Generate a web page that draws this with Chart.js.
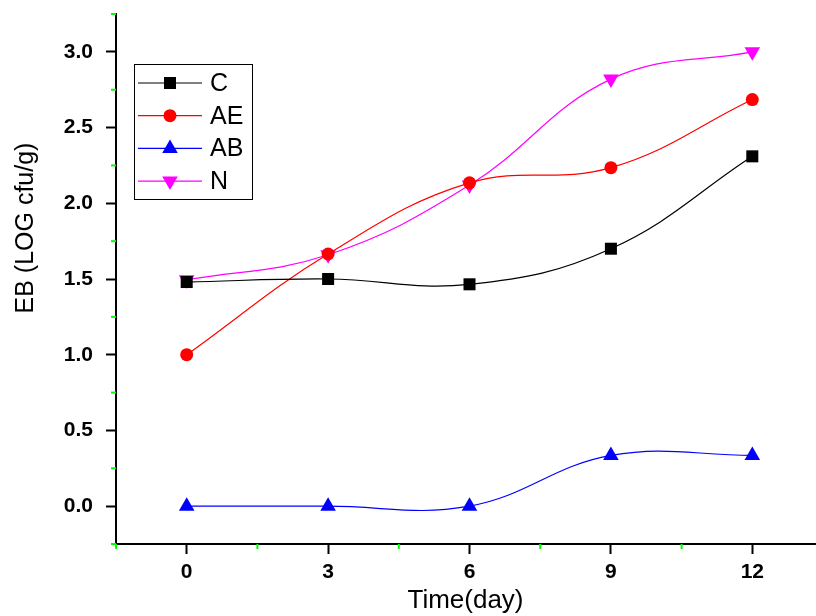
<!DOCTYPE html>
<html>
<head>
<meta charset="utf-8">
<script src="https://cdn.jsdelivr.net/npm/chart.js@4/dist/chart.umd.min.js"></script>
<style>
  html, body { margin: 0; padding: 0; background: #fff; overflow: hidden; }
  #wrap { width: 816px; height: 616px; overflow: hidden; }
</style>
</head>
<body>
<div id="wrap"><canvas id="chart" width="824" height="616"></canvas></div>
<script>
// days on the x axis
const days = [0, 3, 6, 9, 12];

// EB (LOG cfu/g) per treatment
const seriesC  = [1.48, 1.50, 1.465, 1.70, 2.31];
const seriesAE = [1.00, 1.665, 2.135, 2.235, 2.685];
const seriesAB = [0.00, 0.00, 0.00, 0.335, 0.335];
const seriesN  = [1.495, 1.66, 2.12, 2.82, 3.00];

// axis ticks
const xTicks = [0, 3, 6, 9, 12];
const xMinorTicks = [-1.5, 1.5, 4.5, 7.5, 10.5];
const yTicks = [0.0, 0.5, 1.0, 1.5, 2.0, 2.5, 3.0];
const yMinorTicks = [-0.25, 0.25, 0.75, 1.25, 1.75, 2.25, 2.75, 3.25];

function toPoints(values) {
    return days.map(function(d, i) { return { x: d, y: values[i] }; });
}

function makeSet(label, values, color, style, radius, rotation) {
    return {
        label: label,
        data: toPoints(values),
        borderColor: color,
        backgroundColor: color,
        borderWidth: 1.2,
        pointStyle: style,
        pointRadius: radius,
        pointRotation: rotation || 0,
        pointBorderWidth: 0,
        pointBackgroundColor: color,
        tension: 0.4,
        fill: false
    };
}

// minor ticks (green) on both axes
const minorTicksPlugin = {
    id: 'minorTicks',
    afterDraw: function(chart) {
        const ctx = chart.ctx;
        const area = chart.chartArea;
        const xs = chart.scales.x;
        const ys = chart.scales.y;
        ctx.save();
        ctx.strokeStyle = '#00ff00';
        ctx.lineWidth = 2;
        xMinorTicks.forEach(function(v) {
            const px = xs.getPixelForValue(v);
            ctx.beginPath();
            ctx.moveTo(px, area.bottom);
            ctx.lineTo(px, area.bottom + 5);
            ctx.stroke();
        });
        yMinorTicks.forEach(function(v) {
            const py = ys.getPixelForValue(v);
            ctx.beginPath();
            ctx.moveTo(area.left, py);
            ctx.lineTo(area.left - 5, py);
            ctx.stroke();
        });
        ctx.restore();
    }
};

// framed legend with line + marker samples, and the rotated y title
const legendPlugin = {
    id: 'boxLegend',
    afterDraw: function(chart) {
        const ctx = chart.ctx;
        ctx.save();
        ctx.strokeStyle = '#000';
        ctx.lineWidth = 1;
        ctx.strokeRect(134.5, 64.5, 118, 135);
        ctx.font = '25px "Liberation Sans", Arial, sans-serif';
        ctx.textBaseline = 'middle';
        ctx.textAlign = 'left';
        chart.data.datasets.forEach(function(ds, i) {
            const y = 83 + i * 32.7;
            ctx.strokeStyle = ds.borderColor;
            ctx.lineWidth = 1.2;
            ctx.beginPath();
            ctx.moveTo(138, y);
            ctx.lineTo(202, y);
            ctx.stroke();
            ctx.fillStyle = ds.pointBackgroundColor;
            ctx.strokeStyle = ds.pointBackgroundColor;
            Chart.helpers.drawPoint(ctx, {
                pointStyle: ds.pointStyle,
                rotation: ds.pointRotation,
                radius: ds.pointRadius,
                borderWidth: 0
            }, 170, y);
            ctx.fillStyle = '#000';
            ctx.fillText(ds.label, 210, y + 1);
        });

        ctx.translate(26, 228);
        ctx.rotate(-Math.PI / 2);
        ctx.textAlign = 'center';
        ctx.textBaseline = 'middle';
        ctx.font = '25px "Liberation Sans", Arial, sans-serif';
        ctx.fillText('EB (LOG cfu/g)', 0, 0);
        ctx.restore();
    }
};

new Chart(document.getElementById('chart'), {
    type: 'line',
    data: {
        datasets: [
            makeSet('C', seriesC, '#000000', 'rect', 8.5),
            makeSet('AE', seriesAE, '#ff0000', 'circle', 6.5),
            makeSet('AB', seriesAB, '#0000ff', 'triangle', 9),
            makeSet('N', seriesN, '#ff00ff', 'triangle', 9, 180)
        ]
    },
    options: {
        responsive: false,
        animation: false,
        devicePixelRatio: 1,
        layout: {
            padding: { top: 14, right: 0, left: 0, bottom: 0 }
        },
        plugins: {
            legend: { display: false },
            tooltip: { enabled: false }
        },
        scales: {
            x: {
                type: 'linear',
                min: -1.5,
                max: 13.33,
                afterFit: function(scale) {
                    scale.height = 72;
                    scale.paddingLeft = 0;
                    scale.paddingRight = 0;
                },
                afterBuildTicks: function(scale) {
                    scale.ticks = xTicks.map(function(v) { return { value: v }; });
                },
                grid: {
                    drawOnChartArea: false,
                    drawTicks: true,
                    tickLength: 10,
                    tickWidth: 2,
                    tickColor: '#000'
                },
                border: { display: true, color: '#000', width: 2 },
                ticks: {
                    color: '#000',
                    padding: 6,
                    maxRotation: 0,
                    font: { family: '"Liberation Sans", Arial, sans-serif', size: 21, weight: 'bold' },
                    callback: function(v) { return String(v); }
                },
                title: {
                    display: true,
                    text: 'Time(day)',
                    color: '#000',
                    padding: { top: 0, bottom: 0 },
                    font: { family: '"Liberation Sans", Arial, sans-serif', size: 26 }
                }
            },
            y: {
                min: -0.25,
                max: 3.25,
                afterFit: function(scale) {
                    scale.width = 116;
                    scale.paddingTop = 0;
                    scale.paddingBottom = 0;
                },
                afterBuildTicks: function(scale) {
                    scale.ticks = yTicks.map(function(v) { return { value: v }; });
                },
                grid: {
                    drawOnChartArea: false,
                    drawTicks: true,
                    tickLength: 10,
                    tickWidth: 2,
                    tickColor: '#000'
                },
                border: { display: true, color: '#000', width: 2 },
                ticks: {
                    color: '#000',
                    padding: 13,
                    font: { family: '"Liberation Sans", Arial, sans-serif', size: 21, weight: 'bold' },
                    callback: function(v) { return v.toFixed(1); }
                }
            }
        }
    },
    plugins: [minorTicksPlugin, legendPlugin]
});
</script>
</body>
</html>
